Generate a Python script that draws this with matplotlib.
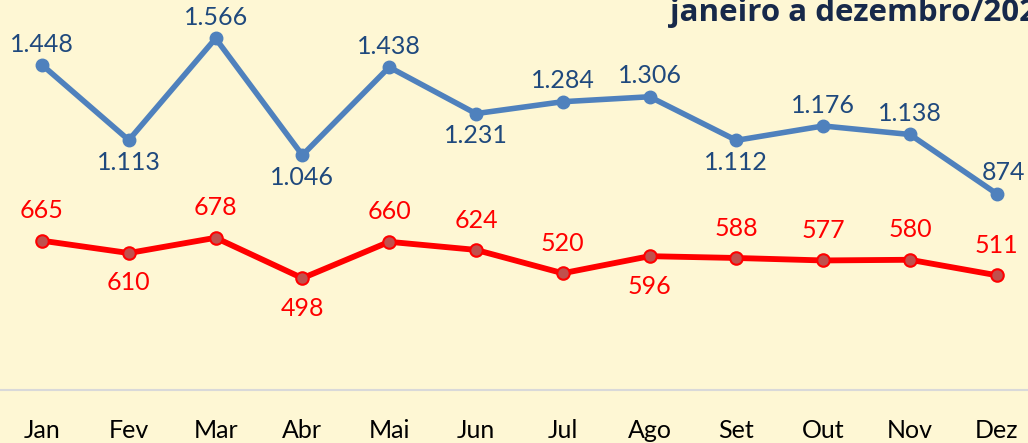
import matplotlib
matplotlib.use("Agg")
import matplotlib.pyplot as plt

months = ["Jan", "Fev", "Mar", "Abr", "Mai", "Jun", "Jul", "Ago", "Set", "Out", "Nov", "Dez"]
blue_vals = [1448, 1113, 1566, 1046, 1438, 1231, 1284, 1306, 1112, 1176, 1138, 874]
red_vals = [665, 610, 678, 498, 660, 624, 520, 596, 588, 577, 580, 511]
blue_pos = ["a", "b", "a", "b", "a", "b", "a", "a", "b", "a", "a", "a"]
red_pos = ["a", "b", "a", "b", "a", "a", "a", "b", "a", "a", "a", "a"]

def fmt(v):
    return f"{v:,}".replace(",", ".")

BG = "#FEF7D4"
plt.rcParams['font.family'] = ['Lato', 'DejaVu Sans']

fig = plt.figure(figsize=(10.28, 4.43), dpi=100, facecolor=BG)
ax = fig.add_axes([0, 1 - 390 / 443, 1, 390 / 443])
ax.set_facecolor(BG)

x = list(range(len(months)))
ax.plot(x, blue_vals, color="#4F81BD", lw=4, marker="o", ms=9,
        mfc="#4F81BD", mec="#4F81BD", solid_capstyle="round", zorder=3)
ax.plot(x, red_vals, color="#FF0000", lw=4.2, marker="o", ms=9,
        mfc="#C0504D", mec="#FF0000", mew=1.5, zorder=3)

for i, (v, p) in enumerate(zip(blue_vals, blue_pos)):
    dy = 15 if p == "a" else -16
    dx = 5 if i == len(months) - 1 else 0
    ax.annotate(fmt(v), (i, v), xytext=(dx, dy), textcoords="offset points",
                ha="center", va="center", fontsize=18, color="#1F497D", clip_on=False)
for i, (v, p) in enumerate(zip(red_vals, red_pos)):
    dy = 21.5 if p == "a" else -21.5
    ax.annotate(fmt(v), (i, v), xytext=(0, dy), textcoords="offset points",
                ha="center", va="center", fontsize=18, color="#FF0000", clip_on=False)

ax.set_xlim(-0.484, 11.36)
ax.set_ylim(0, 1737)
ax.set_xticks(x)
ax.set_xticklabels(months, fontsize=18, color="#000000")
ax.tick_params(axis="x", length=0, pad=21)
ax.set_yticks([])
for s in ["top", "left", "right"]:
    ax.spines[s].set_visible(False)
ax.spines["bottom"].set_color("#D9D9D9")
ax.spines["bottom"].set_linewidth(1.5)

fig.text(670 / 1028, 1 - 21 / 443, "janeiro a dezembro/2023", fontsize=22.5,
         fontweight="bold", color="#17294A", ha="left", va="baseline",
         family=["Open Sans", "DejaVu Sans"])

fig.savefig("out.png", dpi=100, facecolor=BG)
